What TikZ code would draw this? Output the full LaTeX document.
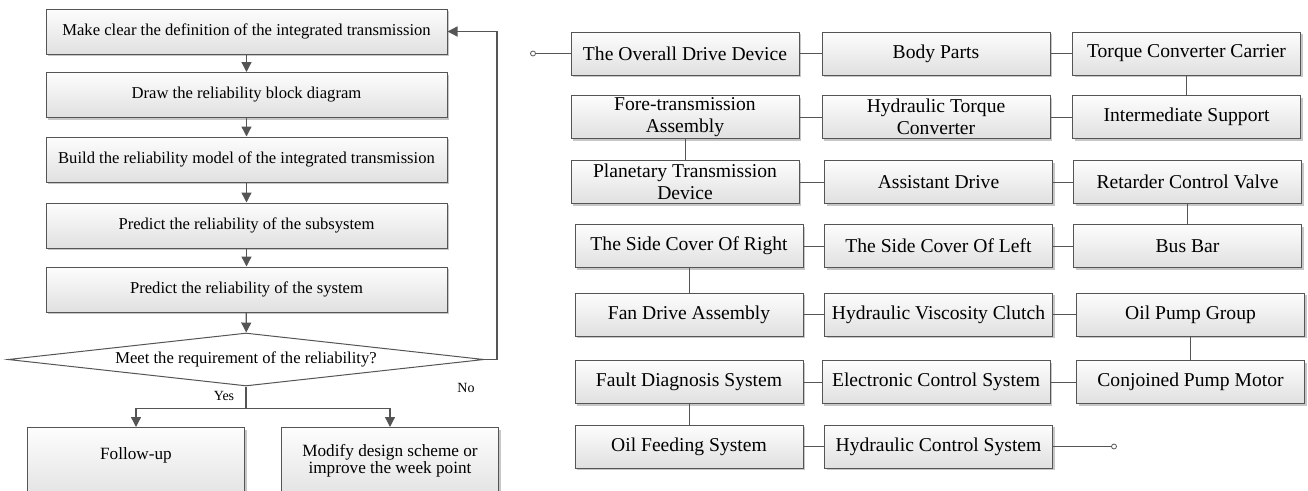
\documentclass[tikz,border=0pt]{standalone}
\usepackage{fontspec}
\setmainfont{Liberation Serif}
\usetikzlibrary{arrows.meta,shapes.geometric,shadows}
\definecolor{edge}{RGB}{85,85,85}
\definecolor{boxtop}{RGB}{253,253,253}
\definecolor{boxbot}{RGB}{224,224,224}
\tikzset{
  boxlook/.style={draw=edge, line width=1pt, top color=boxtop, bottom color=boxbot,
    drop shadow={shadow xshift=2.2pt, shadow yshift=-2.2pt, opacity=0.22, fill=black},
    inner sep=0pt, align=center},
  stepbox/.style={boxlook, minimum width=401, minimum height=45,
    font=\fontsize{16.6}{19}\selectfont},
  endbox/.style={boxlook, minimum width=217, anchor=north,
    font=\fontsize{17.2}{17}\selectfont},
  part/.style={boxlook, minimum width=228, minimum height=43,
    font=\fontsize{19.6}{22}\selectfont},
  decision/.style={draw=edge, line width=1pt, fill=white, shape=diamond, aspect=9,
    minimum width=476, minimum height=53, inner sep=0pt,
    font=\fontsize{16.6}{19}\selectfont},
  flow/.style={draw=edge, line width=1.3pt, -{Triangle[width=10pt,length=10pt]}},
  link/.style={draw=edge, line width=1pt},
  port/.style={circle, draw=edge, line width=0.8pt, fill=white, inner sep=0pt, minimum size=5},
  tag/.style={font=\fontsize{14}{16}\selectfont, inner sep=0pt}
}
\begin{document}
\begin{tikzpicture}[x=1pt,y=-1pt]
\useasboundingbox (0,0) rectangle (1308,490);
\clip (0,0) rectangle (1308,490);

% ---------- reliability prediction procedure ----------
\node[stepbox] (s1) at (246.5,31.5) {Make clear the definition of the integrated transmission};
\node[stepbox] (s2) at (246.5,95) {Draw the reliability block diagram};
\node[stepbox] (s3) at (246.5,159.5) {Build the reliability model of the integrated transmission};
\node[stepbox] (s4) at (246.5,225.5) {Predict the reliability of the subsystem};
\node[stepbox] (s5) at (246.5,289.5) {Predict the reliability of the system};
\node[decision] (d) at (246,359.5) {Meet the requirement of the reliability?};

\node[endbox, text height=32, text depth=45] (follow) at (136,427) {Follow-up};
\node[endbox, text height=46, text depth=30] (modify) at (390,427) {Modify design scheme or\\improve the week point};

\draw[flow] (s1) -- (s2);
\draw[flow] (s2) -- (s3);
\draw[flow] (s3) -- (s4);
\draw[flow] (s4) -- (s5);
\draw[flow] (s5) -- (d);

\draw[link, line width=1.3pt] (d.south) -- ++(0,22) coordinate (split);
\draw[flow] (split) -| (follow.north);
\draw[flow] (split) -| (modify.north);
\draw[flow] (d.east) -- (497,359.5) |- (s1.east);

\node[tag] (yes) at (224,396) {Yes};
\node[tag] (no) at (466,388) {No};

% ---------- reliability block diagram ----------
\node[part] (r1c1) at (685,53.5) {The Overall Drive Device};
\node[part] (r1c2) at (936,53.5) {Body Parts};
\node[part] (r1c3) at (1186.5,53.5) {Torque Converter Carrier};

\node[part] (r2c1) at (685,117) {Fore-transmission\\Assembly};
\node[part] (r2c2) at (936,117) {Hydraulic Torque\\Converter};
\node[part] (r2c3) at (1186.5,117) {Intermediate Support};

\node[part] (r3c1) at (685,182) {Planetary Transmission\\Device};
\node[part] (r3c2) at (938.5,182) {Assistant Drive};
\node[part] (r3c3) at (1187.5,182) {Retarder Control Valve};

\node[part] (r4c1) at (689,246) {The Side Cover Of Right};
\node[part] (r4c2) at (938.5,246) {The Side Cover Of Left};
\node[part] (r4c3) at (1187.5,246) {Bus Bar};

\node[part] (r5c1) at (689,314.5) {Fan Drive Assembly};
\node[part] (r5c2) at (938.5,314.5) {Hydraulic Viscosity Clutch};
\node[part] (r5c3) at (1190.5,314.5) {Oil Pump Group};

\node[part] (r6c1) at (689,382) {Fault Diagnosis System};
\node[part] (r6c2) at (936,382) {Electronic Control System};
\node[part] (r6c3) at (1190.5,382) {Conjoined Pump Motor};

\node[part] (r7c1) at (689,446.5) {Oil Feeding System};
\node[part] (r7c2) at (938.5,446.5) {Hydraulic Control System};

\node[port] (in) at (533,53.5) {};
\node[port] (out) at (1114,446.5) {};

\draw[link] (in) -- (r1c1);
\draw[link] (r1c1) -- (r1c2);
\draw[link] (r1c2) -- (r1c3);
\draw[link] (r1c3) -- (r2c3);
\draw[link] (r2c3) -- (r2c2);
\draw[link] (r2c2) -- (r2c1);
\draw[link] (r2c1) -- (r3c1);
\draw[link] (r3c1) -- (r3c2);
\draw[link] (r3c2) -- (r3c3);
\draw[link] (r3c3) -- (r4c3);
\draw[link] (r4c3) -- (r4c2);
\draw[link] (r4c2) -- (r4c1);
\draw[link] (r4c1) -- (r5c1);
\draw[link] (r5c1) -- (r5c2);
\draw[link] (r5c2) -- (r5c3);
\draw[link] (r5c3) -- (r6c3);
\draw[link] (r6c3) -- (r6c2);
\draw[link] (r6c2) -- (r6c1);
\draw[link] (r6c1) -- (r7c1);
\draw[link] (r7c1) -- (r7c2);
\draw[link] (r7c2) -- (out);
\end{tikzpicture}
\end{document}
